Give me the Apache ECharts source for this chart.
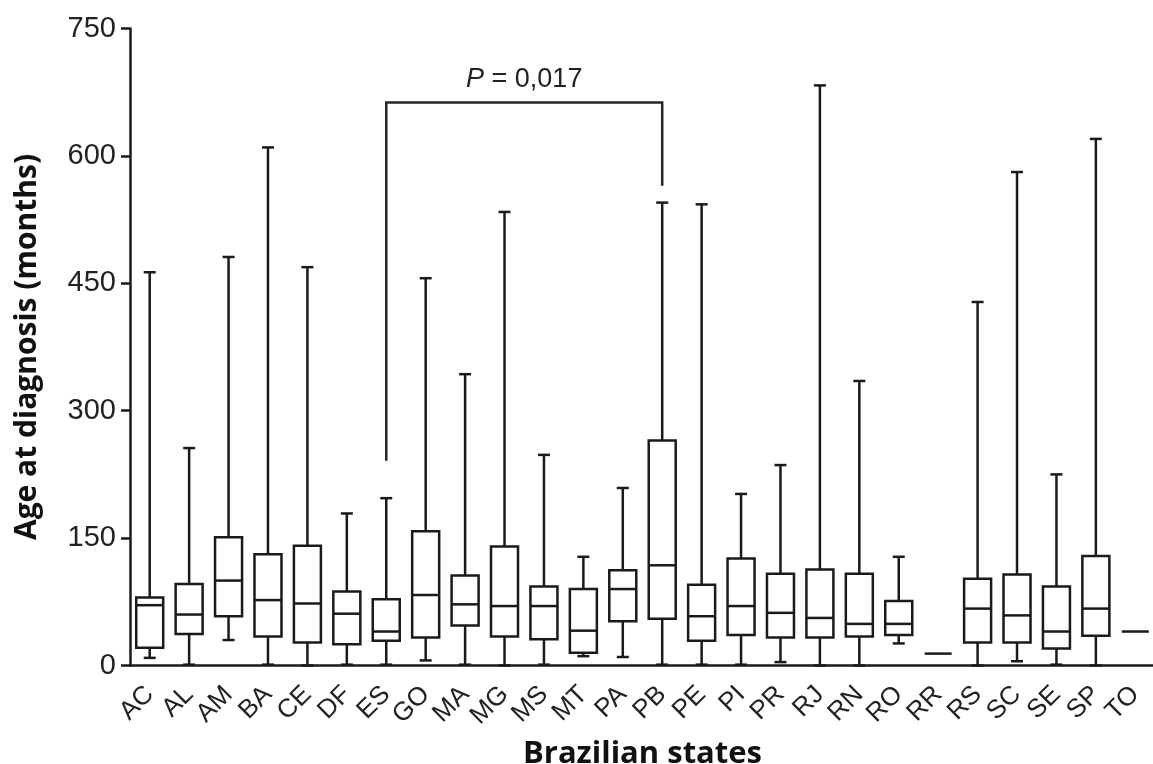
<!DOCTYPE html>
<html>
<head>
<meta charset="utf-8">
<script src="https://cdn.jsdelivr.net/npm/echarts@6/dist/echarts.min.js"></script>
<style>html,body{margin:0;padding:0;background:#fff;}#c{width:1153px;height:764px;}</style>
</head>
<body>
<div id="c"></div>
<script>
const categories = ['AC','AL','AM','BA','CE','DF','ES','GO','MA','MG','MS','MT','PA','PB','PE','PI','PR','RJ','RN','RO','RR','RS','SC','SE','SP','TO'];
const whiskerLow  = [9, 1, 30, 1, 0, 1, 1, 6, 1, 0, 1, 11, 10, 1, 1, 1, 4, 0, 0, 26, 14, 0, 5, 1, 0, 40];
const q1          = [21, 37, 58, 34, 27, 25, 29, 33, 47, 34, 31, 15, 52, 55, 29, 36, 33, 33, 34, 36, 14, 27, 27, 20, 35, 40];
const median      = [71, 60, 100, 77, 73, 61, 40, 83, 72, 70, 70, 41, 90, 118, 58, 70, 62, 56, 49, 49, 14, 67, 59, 40, 67, 40];
const q3          = [80, 96, 151, 131, 141, 87, 78, 158, 106, 140, 93, 90, 112, 265, 95, 126, 108, 113, 108, 76, 14, 102, 107, 93, 129, 40];
const whiskerHigh = [463, 256, 481, 610, 469, 179, 197, 456, 343, 534, 248, 128, 209, 545, 543, 202, 236, 683, 335, 128, 14, 428, 581, 225, 620, 40];
const yTicks = [0, 150, 300, 450, 600, 750];

const bracketFrom = 'ES';
const bracketTo = 'PB';
const bracketLeftLow = 241;
const bracketTop = 663;
const bracketRightLow = 565;
const pText = '{i|P} = 0,017';

const boxData = categories.map((c, i) => [i, whiskerLow[i], q1[i], median[i], q3[i], whiskerHigh[i]]);
const bracketData = [[categories.indexOf(bracketFrom), categories.indexOf(bracketTo), bracketLeftLow, bracketTop, bracketRightLow]];

const ink = '#1a1a1a';
const lw = 2.5;
const chart = echarts.init(document.getElementById('c'), null, {renderer: 'canvas'});

function renderBox(params, api) {
  const i = api.value(0);
  const pLow = api.coord([i, api.value(1)]);
  const pQ1 = api.coord([i, api.value(2)]);
  const pMed = api.coord([i, api.value(3)]);
  const pQ3 = api.coord([i, api.value(4)]);
  const pHigh = api.coord([i, api.value(5)]);
  const x = pMed[0];
  const bw = 27, cw = 12;
  const st = {stroke: ink, lineWidth: lw, fill: null};
  const children = [];
  if (pHigh[1] < pQ3[1] - 0.5) {
    children.push({type: 'line', shape: {x1: x, y1: pQ3[1], x2: x, y2: pHigh[1]}, style: st});
    children.push({type: 'line', shape: {x1: x - cw/2, y1: pHigh[1], x2: x + cw/2, y2: pHigh[1]}, style: st});
  }
  if (pLow[1] > pQ1[1] + 0.5) {
    children.push({type: 'line', shape: {x1: x, y1: pQ1[1], x2: x, y2: pLow[1]}, style: st});
    children.push({type: 'line', shape: {x1: x - cw/2, y1: pLow[1], x2: x + cw/2, y2: pLow[1]}, style: st});
  }
  if (pQ1[1] - pQ3[1] > 0.5) {
    children.push({type: 'rect', shape: {x: x - bw/2, y: pQ3[1], width: bw, height: pQ1[1] - pQ3[1]}, style: {stroke: ink, lineWidth: lw, fill: '#fff'}});
  }
  children.push({type: 'line', shape: {x1: x - bw/2, y1: pMed[1], x2: x + bw/2, y2: pMed[1]}, style: st});
  return {type: 'group', children: children};
}

function renderBracket(params, api) {
  const a = api.value(0), b = api.value(1);
  const l0 = api.coord([a, api.value(2)]);
  const t0 = api.coord([a, api.value(3)]);
  const t1 = api.coord([b, api.value(3)]);
  const r0 = api.coord([b, api.value(4)]);
  return {
    type: 'group',
    children: [
      {type: 'polyline', shape: {points: [l0, t0, t1, r0]}, style: {stroke: '#262626', lineWidth: lw, fill: null}},
      {type: 'text', x: (t0[0] + t1[0]) / 2, y: t0[1] - 9, style: {
        text: pText, align: 'center', verticalAlign: 'bottom',
        fontFamily: 'Liberation Sans', fontSize: 27, fill: '#222',
        rich: {i: {fontStyle: 'italic', fontFamily: 'Liberation Sans', fontSize: 27, fill: '#222'}}
      }}
    ]
  };
}

chart.setOption({
  animation: false,
  backgroundColor: '#fff',
  grid: {left: 130, top: 28.5, width: 1025, height: 637, containLabel: false, outerBoundsMode: 'none'},
  xAxis: {
    type: 'category', data: categories, boundaryGap: true,
    axisLine: {lineStyle: {color: ink, width: lw}},
    axisTick: {alignWithLabel: true, length: 8, lineStyle: {color: ink, width: lw}},
    axisLabel: {rotate: 45, fontSize: 26, fontFamily: 'Liberation Sans', color: '#222', margin: 25, interval: 0},
    name: 'Brazilian states', nameLocation: 'middle', nameGap: 73,
    nameTextStyle: {fontSize: 31, fontWeight: 'bold', fontFamily: 'Open Sans', color: '#111'}
  },
  yAxis: {
    type: 'value', min: yTicks[0], max: yTicks[yTicks.length - 1], interval: 150,
    axisLine: {show: true, lineStyle: {color: ink, width: lw}},
    axisTick: {show: true, length: 9, lineStyle: {color: ink, width: lw}},
    axisLabel: {fontSize: 29, fontFamily: 'Liberation Sans', color: '#222', margin: 14},
    splitLine: {show: false},
    name: 'Age at diagnosis (months)', nameLocation: 'middle', nameGap: 88,
    nameTextStyle: {fontSize: 30, fontWeight: 'bold', fontFamily: 'Open Sans', color: '#111'}
  },
  series: [
    {type: 'custom', renderItem: renderBox, data: boxData, encode: {x: 0, y: [1, 2, 3, 4, 5]}, clip: false, z: 3},
    {type: 'custom', renderItem: renderBracket, data: bracketData, encode: {x: [0, 1], y: [2, 3, 4]}, clip: false, z: 4}
  ]
});
</script>
</body>
</html>
